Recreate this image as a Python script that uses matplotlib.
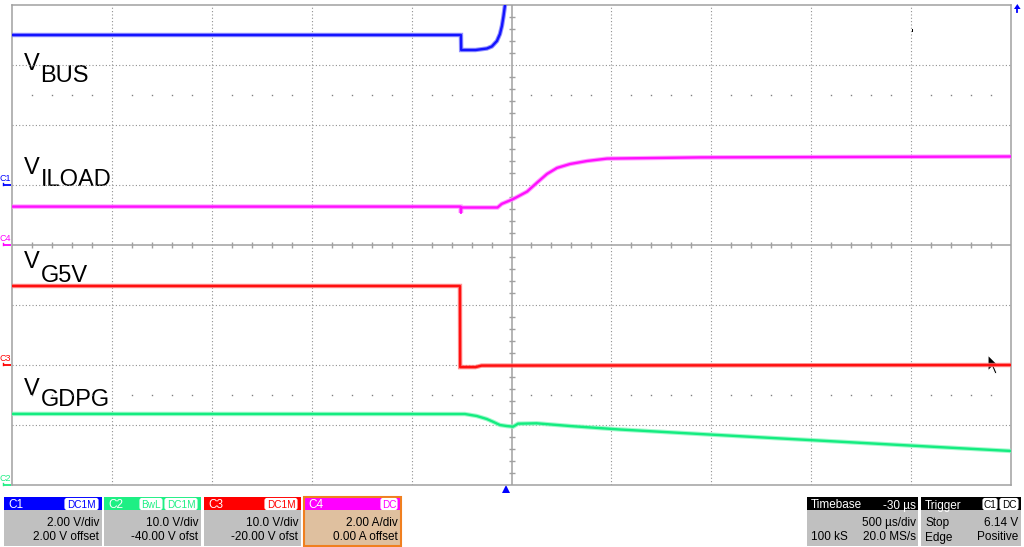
import matplotlib
matplotlib.use("Agg")
import matplotlib.pyplot as plt
from matplotlib.patches import Rectangle, FancyBboxPatch, Polygon

# ---------------- scope settings ----------------
time_per_div = 500.0        # µs/div
timebase_delay = -30.0      # µs
sample_count = "100 kS"
sample_rate = "20.0 MS/s"
trigger_level = "6.14 V"
trigger_mode = "Stop"
trigger_type = "Edge"
trigger_slope = "Positive"

ch_names = ["C1", "C2", "C3", "C4"]
ch_per_div = [2.0, 10.0, 10.0, 2.0]
ch_offset = [2.0, -40.0, -20.0, 0.0]
ch_units = ["V", "V", "V", "A"]
ch_div_text = ["2.00 V/div", "10.0 V/div", "10.0 V/div", "2.00 A/div"]
ch_ofs_text = ["2.00 V offset", "-40.00 V ofst", "-20.00 V ofst", "0.00 A offset"]
ch_badges = [["DC1M"], ["BwL", "DC1M"], ["DC1M"], ["DC"]]

# ---------------- waveforms (time in µs) ----------------
# C1 : VBUS (V)
vbus_t = [-2470, -223, -222, -150, -93, -68, -43, -28, -18, -10, -3, 8]
vbus_v = [5.0, 5.0, 4.5, 4.5, 4.55, 4.62, 4.8, 5.03, 5.3, 5.63, 5.97, 6.5]
# C4 : ILOAD (A)
iload_t = [-2470, -225, -223, -221, -150, -40, -19, 38, 108, 158, 208, 258, 323, 408, 508, 973, 2530]
iload_a = [1.28, 1.28, 1.07, 1.25, 1.25, 1.25, 1.37, 1.53, 1.78, 2.08, 2.37, 2.57, 2.70, 2.80, 2.88, 2.92, 2.95]
# C3 : G5V (V)
g5v_t = [-2470, -228, -227, -150, -120, 2530]
g5v_v = [13.17, 13.17, -0.35, -0.35, -0.1, 0.0]
# C2 : GDPG (V)
gdpg_t = [-2470, -330, -203, -144, -94, -63, -28, 6, 38, 63, 156, 323, 573, 973, 1474, 1974, 2530]
gdpg_v = [11.85, 11.83, 11.83, 11.5, 11.0, 10.55, 10.0, 9.83, 9.72, 10.22, 10.28, 9.83, 9.25, 8.5, 7.58, 6.67, 5.67]

trace_data = {"C1": (vbus_t, vbus_v), "C2": (gdpg_t, gdpg_v),
              "C3": (g5v_t, g5v_v), "C4": (iload_t, iload_a)}

# ---------------- styles ----------------
head_color = {"C1": "#0000ff", "C2": "#1eef84", "C3": "#ff0000", "C4": "#ff00ff"}
trace_color = {"C1": "#1414ff", "C2": "#14ec80", "C3": "#ff1010", "C4": "#ff10ff"}
fringe_color = {"C1": "#7878ff", "C2": "#8cf8c0", "C3": "#ff7878", "C4": "#ff88ff"}
grid_grey = "#a0a0a0"
FONT = "Liberation Sans"

W, H = 1024, 547
fig = plt.figure(figsize=(W / 100, H / 100), dpi=100)
fig.patch.set_facecolor("white")

# background pixel axes
bg = fig.add_axes([0, 0, 1, 1])
bg.set_xlim(0, W)
bg.set_ylim(H, 0)
bg.axis("off")

# plot area in pixels
PL, PR, PT, PB = 12, 1011, 5, 485
rect = [PL / W, (H - PB) / H, (PR - PL) / W, (PB - PT) / H]
t_center = -timebase_delay
xlim = (t_center - 5 * time_per_div, t_center + 5 * time_per_div)

ax = fig.add_axes(rect)
ax.set_xlim(*xlim)
ax.set_ylim(-4, 4)
ax.set_xticks([])
ax.set_yticks([])
ax.patch.set_alpha(0)
for s in ax.spines.values():
    s.set_color(grid_grey)
    s.set_linewidth(1.1)
for k in range(-4, 5):
    if k:
        ax.axvline(t_center + k * time_per_div, color="#909090", ls=(0, (1, 2)), lw=0.8)
for j in range(-3, 4):
    if j:
        ax.axhline(j, color="#909090", ls=(0, (1, 2)), lw=0.8)
ax.axvline(t_center, color=grid_grey, lw=1.1)
ax.axhline(0, color=grid_grey, lw=1.1)
yt = [j * 0.2 for j in range(-20, 21) if j % 5 != 0]
ax.plot([t_center] * len(yt), yt, ls="none", marker="_", ms=4, mew=1.0, color=grid_grey)
xt = [t_center + k * 0.2 * time_per_div for k in range(-24, 25) if k % 5 != 0]
ax.plot(xt, [0] * len(xt), ls="none", marker="|", ms=4, mew=1.0, color=grid_grey)
for yy in (2.5, -2.5):
    ax.plot(xt, [yy] * len(xt), ls="none", marker="s", ms=1.0, mew=0, color="#808080")

# channel axes
ch_axes = {}
for name, per_div, ofs in zip(ch_names, ch_per_div, ch_offset):
    a = fig.add_axes(rect)
    a.set_xlim(*xlim)
    a.set_ylim(-ofs - 4 * per_div, -ofs + 4 * per_div)
    a.axis("off")
    a.patch.set_alpha(0)
    ch_axes[name] = a

draw_order = ["C2", "C3", "C4", "C1"]
for name in draw_order:
    a = ch_axes[name]
    t, v = trace_data[name]
    a.plot(t, v, color=fringe_color[name], lw=3.2, alpha=0.8, solid_joinstyle="miter")
    a.plot(t, v, color=trace_color[name], lw=1.7)

# ground markers on the left edge
for name in ch_names:
    a = ch_axes[name]
    yd = H - a.transData.transform((xlim[0], 0))[1]
    c = head_color[name]
    bg.plot([3, 11], [yd, yd], color=c, lw=1.3, solid_capstyle="butt")
    bg.plot([3, 3], [yd, yd - 2.5], color=c, lw=1.0)
    bg.text(0, yd - 4, name, color=c, fontsize=6.5, family=FONT, ha="left", va="baseline")

# trigger marker (t = 0)
xtrig = ax.transData.transform((0, 0))[0]
bg.plot([xtrig], [488.5], marker="^", ms=5.5, color="#0000ff", mew=0)
# off-screen arrow (C1 above screen)
bg.add_patch(Polygon([(1014, 9), (1017.3, 4), (1020.6, 9)], closed=True, color="#0000ff", lw=0))
bg.plot([1017.3, 1017.3], [7, 12], color="#0000ff", lw=1.3)
# small dark artifact on the screen
bg.add_patch(Rectangle((911.5, 28.5), 1.2, 3, facecolor="black", lw=0))

# trace labels
labels = [("V", "BUS", 70, 82), ("V", "ILOAD", 173.5, 186), ("V", "G5V", 268, 281.5), ("V", "GDPG", 395, 405.5)]
for main, sub, yb, ys in labels:
    bg.text(23.5, yb, main, fontsize=17, family=FONT, va="baseline", ha="left", color="black")
    bg.text(40.5, ys, sub, fontsize=17, family=FONT, va="baseline", ha="left", color="black")

# mouse cursor
cur = [(0, 0), (0, 16), (4, 12), (7, 19), (9, 18), (6, 11), (11, 11)]
bg.add_patch(Polygon([(988 + x, 355 + y) for x, y in cur], closed=True,
                     facecolor="black", edgecolor="white", lw=0.8, zorder=10))

# ---------------- info panels ----------------
HT, HB, BB = 497, 510, 546
BODY_GREY = "#c0c0c0"


def badge(x0, x1, text, color, y0=498.5, y1=509.5):
    bg.add_patch(FancyBboxPatch((x0 + 1, y0), x1 - x0 - 2, y1 - y0, boxstyle="round,pad=0,rounding_size=2",
                                facecolor="white", edgecolor="white", lw=0.8))
    bg.text((x0 + x1) / 2, (y0 + y1) / 2 + 0.5, text, color=color, fontsize=7.2, family=FONT,
            ha="center", va="center")


panel_x = [(4, 102), (104, 201), (204, 301), (304, 401)]
badge_x = [[(64, 99)], [(139, 163), (164, 198)], [(264, 298)], [(380, 398)]]
for i, name in enumerate(ch_names):
    x0, x1 = panel_x[i]
    body = "#dfc09f" if name == "C4" else BODY_GREY
    bg.add_patch(Rectangle((x0, HB), x1 - x0, BB - HB, facecolor=body, lw=0))
    bg.add_patch(Rectangle((x0, HT), x1 - x0, HB - HT, facecolor=head_color[name], lw=0))
    if name == "C4":
        bg.add_patch(Rectangle((x0, HT), x1 - x0, BB - HT, facecolor="none", edgecolor="#f07f1f", lw=1.5))
    bg.text(x0 + 4, 508.5, name, color="white", fontsize=8.5, family=FONT, va="baseline")
    for (bx0, bx1), bt in zip(badge_x[i], ch_badges[i]):
        badge(bx0, bx1, bt, head_color[name])
    bg.text(x1 - 3, 526, ch_div_text[i], color="black", fontsize=8.5, family=FONT, ha="right", va="baseline")
    bg.text(x1 - 3, 540.5, ch_ofs_text[i], color="black", fontsize=8.5, family=FONT, ha="right", va="baseline")

# timebase panel
tx0, tx1 = 807, 918
bg.add_patch(Rectangle((tx0, HB), tx1 - tx0, BB - HB, facecolor=BODY_GREY, lw=0))
bg.add_patch(Rectangle((tx0, HT), tx1 - tx0, HB - HT, facecolor="black", lw=0))
bg.text(tx0 + 4, 508.5, "Timebase", color="white", fontsize=8.5, family=FONT, va="baseline")
bg.text(tx1 - 2, 508.5, f"{timebase_delay:.0f} µs", color="white", fontsize=8.5, family=FONT,
        ha="right", va="baseline")
bg.text(tx1 - 2, 526, f"{time_per_div:.0f} µs/div", color="black", fontsize=8.5, family=FONT,
        ha="right", va="baseline")
bg.text(tx0 + 4, 540.5, sample_count, color="black", fontsize=8.5, family=FONT, va="baseline")
bg.text(tx1 - 2, 540.5, sample_rate, color="black", fontsize=8.5, family=FONT, ha="right", va="baseline")

# trigger panel
gx0, gx1 = 921, 1021
bg.add_patch(Rectangle((gx0, HB), gx1 - gx0, BB - HB, facecolor=BODY_GREY, lw=0))
bg.add_patch(Rectangle((gx0, HT), gx1 - gx0, HB - HT, facecolor="black", lw=0))
bg.text(gx0 + 4, 508.5, "Trigger", color="white", fontsize=8.5, family=FONT, va="baseline")
badge(982, 998, "C1", "black")
badge(999, 1019, "DC", "black")
bg.text(gx0 + 4, 526, trigger_mode, color="black", fontsize=8.5, family=FONT, va="baseline")
bg.text(gx1 - 3, 526, trigger_level, color="black", fontsize=8.5, family=FONT, ha="right", va="baseline")
bg.text(gx0 + 4, 540.5, trigger_type, color="black", fontsize=8.5, family=FONT, va="baseline")
bg.text(gx1 - 3, 540.5, trigger_slope, color="black", fontsize=8.5, family=FONT, ha="right", va="baseline")

fig.savefig("out.png", dpi=100)
